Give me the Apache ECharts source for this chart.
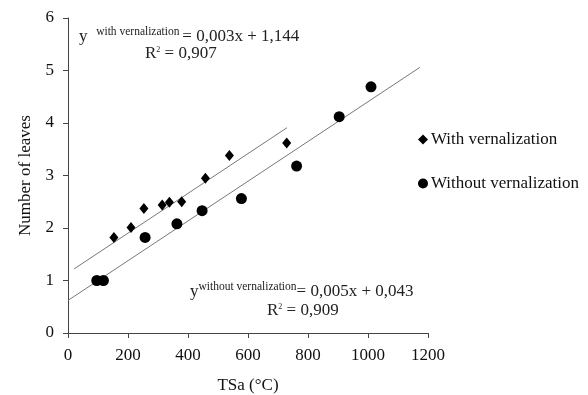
<!DOCTYPE html>
<html><head><meta charset="utf-8">
<script src="https://cdn.jsdelivr.net/npm/echarts@6/dist/echarts.min.js"></script>
<style>html,body{margin:0;padding:0;background:#fff}#c{width:588px;height:395px}</style>
</head><body><div id="c"></div>
<script>
var withX = [153, 210, 253, 314, 338, 379, 458, 538, 729];
var withY = [1.82, 2.01, 2.37, 2.44, 2.49, 2.50, 2.95, 3.38, 3.62];
var withoutX = [96, 118, 257, 363, 447, 578, 762, 904, 1010];
var withoutY = [1.0, 1.0, 1.82, 2.08, 2.33, 2.56, 3.18, 4.12, 4.69];
var trendWithX = [20, 730];
var trendWithY = [1.22, 3.91];
var trendWithoutX = [0, 1173];
var trendWithoutY = [0.62, 5.06];
var seriesNames = ['With vernalization', 'Without vernalization'];

function pairs(xs, ys){ return xs.map(function(x,i){return [x, ys[i]];}); }
var font = 'Liberation Serif';
var chart = echarts.init(document.getElementById('c'));
chart.setOption({
  animation: false,
  textStyle: {fontFamily: font},
  grid: {left: 68, right: 160, top: 18, bottom: 62, containLabel: false, outerBoundsMode: 'none'},
  xAxis: {
    type: 'value', min: 0, max: 1200, interval: 200,
    name: 'TSa (°C)', nameLocation: 'middle', nameGap: 44,
    nameTextStyle: {fontFamily: font, fontSize: 17, color: '#111'},
    axisLine: {show: true, lineStyle: {color: '#444', width: 1}},
    axisTick: {show: true, length: 5, lineStyle: {color: '#444'}},
    axisLabel: {fontFamily: font, fontSize: 17, color: '#111', margin: 14,
                formatter: function(v){ return String(v); }},
    splitLine: {show: false}
  },
  yAxis: {
    type: 'value', min: 0, max: 6, interval: 1,
    name: 'Number of leaves', nameLocation: 'middle', nameGap: 34, nameRotate: 90,
    nameTextStyle: {fontFamily: font, fontSize: 17, color: '#111'},
    axisLine: {show: true, lineStyle: {color: '#444', width: 1}},
    axisTick: {show: true, length: 5, lineStyle: {color: '#444'}},
    axisLabel: {fontFamily: font, fontSize: 17, color: '#111', margin: 14},
    splitLine: {show: false}
  },
  legend: {
    orient: 'vertical', left: 413, top: 126, itemGap: 27,
    itemWidth: 10, itemHeight: 10,
    textStyle: {fontFamily: font, fontSize: 17, color: '#111', padding: [0,0,0,-2]},
    data: [{name: seriesNames[0], icon: 'diamond'}, {name: seriesNames[1], icon: 'circle'}]
  },
  series: [
    {type: 'line', data: pairs(trendWithX, trendWithY), symbol: 'none', silent: true,
     lineStyle: {color: '#777', width: 1}, z: 1},
    {type: 'line', data: pairs(trendWithoutX, trendWithoutY), symbol: 'none', silent: true,
     lineStyle: {color: '#777', width: 1}, z: 1},
    {name: seriesNames[0], type: 'scatter', data: pairs(withX, withY), symbol: 'diamond',
     symbolSize: [9, 11], itemStyle: {color: '#000', opacity: 1}, z: 3},
    {name: seriesNames[1], type: 'scatter', data: pairs(withoutX, withoutY), symbol: 'circle',
     symbolSize: 11, itemStyle: {color: '#000', opacity: 1}, z: 3}
  ],
  graphic: [
    {type: 'text', left: 79, top: 26, style: {
      text: '{b|y}{s|   with vernalization }{b|= 0,003x + 1,144}',
      rich: {b: {fontFamily: font, fontSize: 17, fill: '#222'},
             s: {fontFamily: font, fontSize: 11.5, fill: '#222', padding: [0,0,9,0]}}}},
    {type: 'text', left: 145, top: 45, style: {
      text: '{b|R}{s|2}{b| = 0,907}',
      rich: {b: {fontFamily: font, fontSize: 17, fill: '#222'},
             s: {fontFamily: font, fontSize: 8, fill: '#222', padding: [0,0,8,0]}}}},
    {type: 'text', left: 190, top: 281, style: {
      text: '{b|y}{s|without vernalization}{b|= 0,005x + 0,043}',
      rich: {b: {fontFamily: font, fontSize: 17, fill: '#222'},
             s: {fontFamily: font, fontSize: 11.5, fill: '#222', padding: [0,0,9,0]}}}},
    {type: 'text', left: 267, top: 302, style: {
      text: '{b|R}{s|2}{b| = 0,909}',
      rich: {b: {fontFamily: font, fontSize: 17, fill: '#222'},
             s: {fontFamily: font, fontSize: 8, fill: '#222', padding: [0,0,8,0]}}}}
  ]
});
</script></body></html>
